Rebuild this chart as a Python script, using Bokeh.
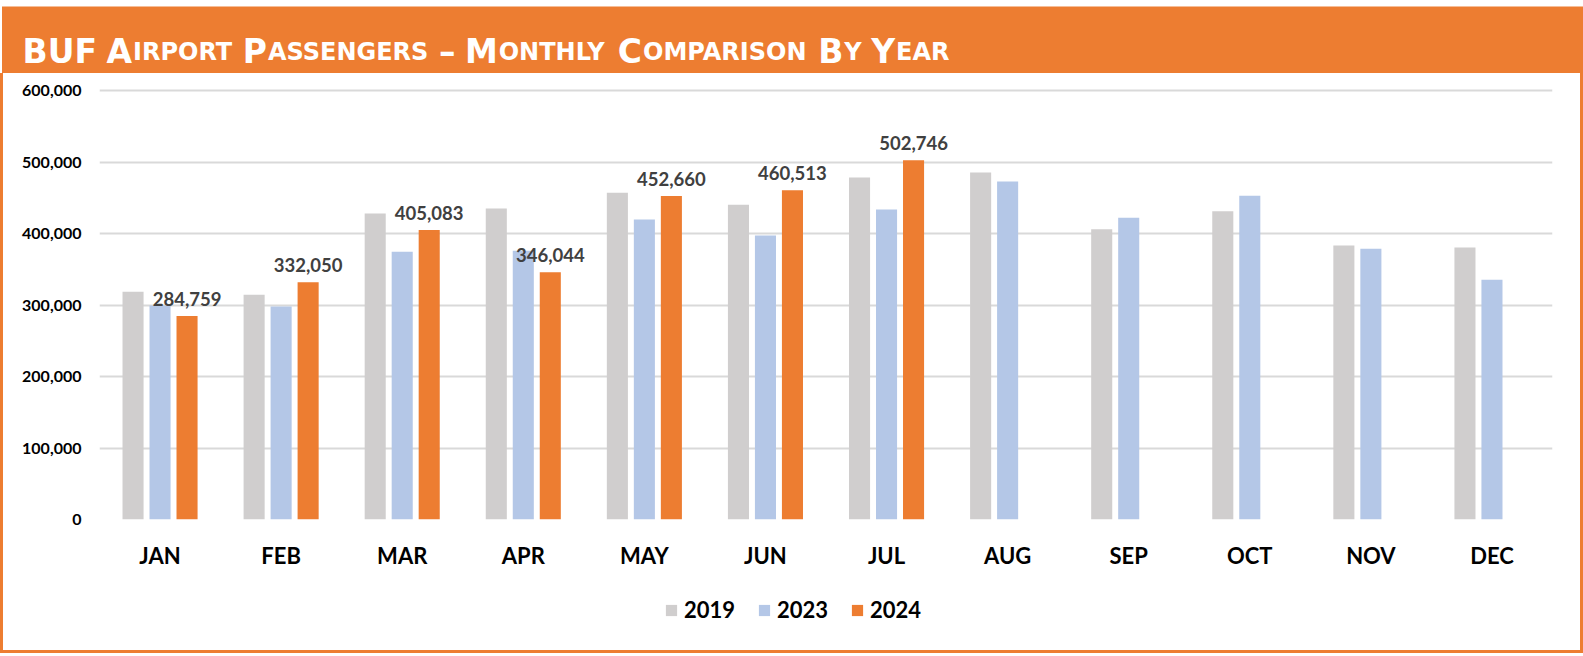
from bokeh.plotting import figure
from bokeh.layouts import column, row
from bokeh.models import (ColumnDataSource, FactorRange, Range1d, NumeralTickFormatter,
                          Legend, LegendItem, Spacer)
from bokeh.transform import dodge
from bokeh.core.properties import value
from bokeh.embed import file_html
from bokeh.resources import INLINE

# ---- data ----
months = ["JAN", "FEB", "MAR", "APR", "MAY", "JUN", "JUL", "AUG", "SEP", "OCT", "NOV", "DEC"]
pax_2019 = [318600, 314400, 428000, 435000, 457000, 440200, 478400, 485400, 406200, 431400, 383400, 380600]
pax_2023 = [299500, 298000, 374500, 375900, 419700, 397300, 433700, 472800, 422000, 452800, 378700, 335400]
months_2024 = ["JAN", "FEB", "MAR", "APR", "MAY", "JUN", "JUL"]
pax_2024 = [284759, 332050, 405083, 346044, 452660, 460513, 502746]
series_names = ["2019", "2023", "2024"]
y_ticks = [0, 100000, 200000, 300000, 400000, 500000, 600000]
title_words = [("BUF", ""), ("A", "IRPORT"), ("P", "ASSENGERS"), ("\u2013", ""),
               ("M", "ONTHLY"), ("C", "OMPARISON"), ("B", "Y"), ("Y", "EAR")]

C2019 = "#D0CECE"
C2023 = "#B4C7E7"
C2024 = "#ED7D31"

W = 1583
TITLE_H = 73
CHART_H = 507
LEG_H = 70
PANEL_H = CHART_H + LEG_H
EDGE = 3
MW = W - 2 * EDGE
FRAME_LEFT = 96  # inside the chart figure


def bar_strip(w, h):
    return Spacer(width=w, height=h, styles={"background-color": C2024})


# ---- title band ----
t = figure(width=W, height=TITLE_H, x_range=Range1d(0, W), y_range=Range1d(TITLE_H, 0),
           toolbar_location=None, output_backend="svg", x_axis_type=None, y_axis_type=None,
           min_border=0, background_fill_color="white", border_fill_color="white")
t.outline_line_color = None
t.grid.visible = False
t.quad(left=[1.5], right=[W], top=[6], bottom=[TITLE_H], fill_color=C2024, line_color=None)

# DejaVu Sans Bold advance widths (em)
cw = {"A": 0.774, "B": 0.760, "C": 0.734, "E": 0.683, "F": 0.683, "G": 0.820, "H": 0.837,
      "I": 0.372, "L": 0.637, "M": 0.994, "N": 0.837, "O": 0.850, "P": 0.733, "R": 0.770,
      "S": 0.720, "T": 0.682, "U": 0.812, "Y": 0.724, "\u2013": 0.5}
BIG, SMALL = 33, 24
base_y = 51
x_start, x_end = 22, 949
widths = []
for first, rest in title_words:
    wb = sum(cw.get(ch, 0.7) for ch in first) * BIG
    ws = sum(cw.get(ch, 0.7) for ch in rest) * SMALL + (1 if rest else 0)
    widths.append((wb, ws))
gap = (x_end - x_start - sum(a + b for a, b in widths)) / (len(title_words) - 1)
bx, btxt, sx, stxt = [], [], [], []
cx = x_start
for (first, rest), (wb, ws) in zip(title_words, widths):
    bx.append(cx)
    btxt.append(first)
    if rest:
        sx.append(cx + wb + 1)
        stxt.append(rest)
    cx += wb + ws + gap
t.text(x=bx, y=[base_y] * len(bx), text=btxt, text_baseline="alphabetic",
       text_font=value("DejaVu Sans"), text_font_style="bold", text_font_size=f"{BIG}px",
       text_color="white")
t.text(x=sx, y=[base_y] * len(sx), text=stxt, text_baseline="alphabetic",
       text_font=value("DejaVu Sans"), text_font_style="bold", text_font_size=f"{SMALL}px",
       text_color="white")

# ---- main chart ----
src = ColumnDataSource(dict(month=months, y2019=pax_2019, y2023=pax_2023))
src24 = ColumnDataSource(dict(month=months_2024, y2024=pax_2024,
                              label=[f"{v:,}" for v in pax_2024]))

p = figure(width=MW, height=CHART_H, x_range=FactorRange(*months), y_range=Range1d(0, 603000),
           output_backend="svg", toolbar_location=None,
           min_border_left=FRAME_LEFT, min_border_right=28, min_border_top=15, min_border_bottom=61)
p.background_fill_color = "white"
p.border_fill_color = "white"
p.outline_line_color = None

OFF, BW = 0.223, 0.174
p.vbar(x=dodge("month", -OFF, range=p.x_range), top="y2019", width=BW, source=src,
       fill_color=C2019, line_color=None)
p.vbar(x=dodge("month", 0, range=p.x_range), top="y2023", width=BW, source=src,
       fill_color=C2023, line_color=None)
p.vbar(x=dodge("month", OFF, range=p.x_range), top="y2024", width=BW, source=src24,
       fill_color=C2024, line_color=None)

p.text(x=dodge("month", OFF, range=p.x_range), y="y2024", text="label", source=src24,
       text_align="center", text_baseline="alphabetic", y_offset=-17,
       text_font=value("Lato"), text_font_style="bold", text_font_size="18.5px", text_color="#404040")

p.yaxis.ticker = y_ticks
p.yaxis.formatter = NumeralTickFormatter(format="0,0")
p.yaxis.axis_line_color = None
p.yaxis.major_tick_line_color = None
p.yaxis.minor_tick_line_color = None
p.yaxis.major_tick_out = 0
p.yaxis.major_tick_in = 0
p.yaxis.major_label_standoff = 18
p.yaxis.major_label_text_font = "Lato"
p.yaxis.major_label_text_font_style = "bold"
p.yaxis.major_label_text_font_size = "16px"
p.yaxis.major_label_text_color = "black"

p.xaxis.axis_line_color = None
p.xaxis.major_tick_line_color = None
p.xaxis.major_tick_out = 0
p.xaxis.major_tick_in = 0
p.xaxis.major_label_standoff = 22
p.xaxis.major_label_text_font = "Lato"
p.xaxis.major_label_text_font_style = "bold"
p.xaxis.major_label_text_font_size = "22px"
p.xaxis.major_label_text_color = "black"

p.xgrid.grid_line_color = None
p.ygrid.grid_line_color = "#D9D9D9"
p.ygrid.grid_line_width = 2

# ---- legend strip (frame aligned with the chart frame) ----
lg = figure(width=MW, height=LEG_H, toolbar_location=None, output_backend="svg",
            x_range=Range1d(0, 1), y_range=Range1d(0, 1),
            x_axis_type=None, y_axis_type=None, min_border=0,
            background_fill_color="white", border_fill_color="white")
lg.outline_line_color = None
lg.grid.visible = False
colors = [C2019, C2023, C2024]
items = []
for name, c in zip(series_names, colors):
    r = lg.vbar(x=[0.5], top=[0], bottom=[0], width=0, fill_color=c, line_color=None)
    items.append(LegendItem(label=name, renderers=[r]))
legend = Legend(items=items, location=(664 - (EDGE + FRAME_LEFT), 27), orientation="horizontal",
                glyph_width=14, glyph_height=14, label_standoff=6, spacing=22,
                padding=0, margin=0, border_line_color=None, background_fill_alpha=0,
                label_text_font="Lato", label_text_font_style="bold",
                label_text_font_size="22px", label_text_color="black")
lg.add_layout(legend)

layout = column(t,
                row(bar_strip(EDGE, PANEL_H), column(p, lg), bar_strip(EDGE, PANEL_H)),
                bar_strip(W, EDGE))

open("out.html", "w").write(file_html(layout, INLINE))
